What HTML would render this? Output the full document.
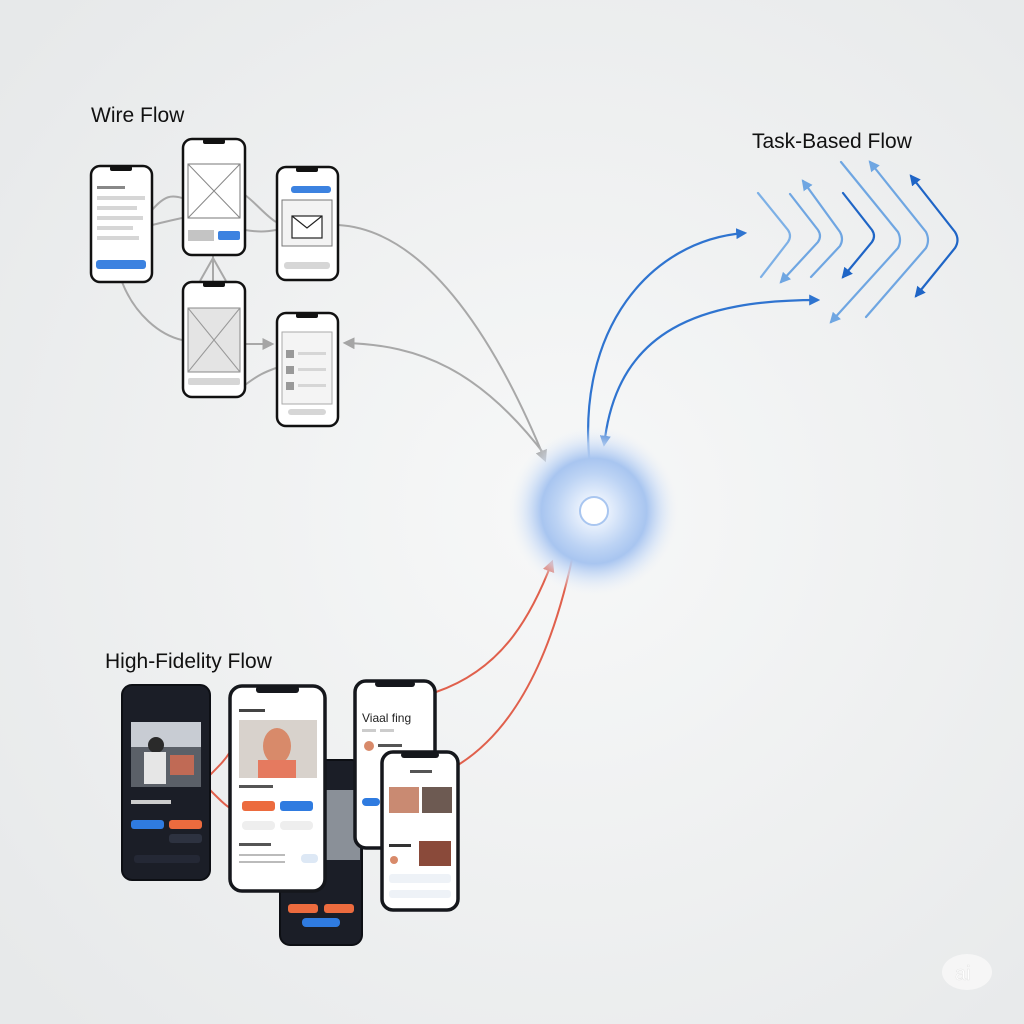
<!DOCTYPE html>
<html><head><meta charset="utf-8"><style>
html,body{margin:0;padding:0;width:1024px;height:1024px;overflow:hidden;background:#eceeee}
svg{display:block}
text{font-family:"Liberation Sans",sans-serif}
</style></head><body>
<svg width="1024" height="1024" viewBox="0 0 1024 1024" xmlns="http://www.w3.org/2000/svg">
<defs>
<radialGradient id="bg" cx="0.55" cy="0.5" r="0.7">
<stop offset="0" stop-color="#f7f8f8"/><stop offset="1" stop-color="#e7e9ea"/></radialGradient>
<radialGradient id="orb" cx="0.5" cy="0.5" r="0.5">
<stop offset="0" stop-color="#ffffff"/><stop offset="0.18" stop-color="#e6effc"/><stop offset="0.45" stop-color="#bcd3f4"/><stop offset="0.62" stop-color="#a8c5f0"/><stop offset="0.8" stop-color="#d2e1f7" stop-opacity="0.7"/><stop offset="1" stop-color="#eef2f8" stop-opacity="0"/></radialGradient>
<marker id="ag" viewBox="0 0 10 10" refX="8" refY="5" markerWidth="6" markerHeight="6" orient="auto"><path d="M0,0L10,5L0,10z" fill="#a5a5a5"/></marker>
<marker id="ar" viewBox="0 0 10 10" refX="8" refY="5" markerWidth="6" markerHeight="6" orient="auto"><path d="M0,0L10,5L0,10z" fill="#e0604c"/></marker>
<marker id="ab" viewBox="0 0 10 10" refX="8" refY="5" markerWidth="5" markerHeight="5" orient="auto"><path d="M0,0L10,5L0,10z" fill="#2f74d0"/></marker>
<marker id="abs" viewBox="0 0 10 10" refX="2" refY="5" markerWidth="5" markerHeight="5" orient="auto-start-reverse"><path d="M0,0L10,5L0,10z" fill="#2f74d0"/></marker>
<marker id="al" viewBox="0 0 10 10" refX="8" refY="5" markerWidth="5" markerHeight="5" orient="auto-start-reverse"><path d="M0,0L10,5L0,10z" fill="#6fa6e2"/></marker>
<marker id="ad" viewBox="0 0 10 10" refX="8" refY="5" markerWidth="5" markerHeight="5" orient="auto-start-reverse"><path d="M0,0L10,5L0,10z" fill="#1f65c6"/></marker>
</defs>
<rect width="1024" height="1024" fill="url(#bg)"/>

<text x="91" y="122" font-size="21" fill="#111">Wire Flow</text>
<text x="752" y="148" font-size="21" fill="#111">Task-Based Flow</text>
<text x="105" y="668" font-size="21" fill="#111">High-Fidelity Flow</text>

<g fill="none" stroke="#a8a8a8" stroke-width="2">
<path d="M152,210 C165,195 172,195 182,198"/>
<path d="M152,225 C165,222 172,220 182,218"/>
<path d="M245,195 C258,205 265,215 276,222"/>
<path d="M245,230 C258,232 265,232 276,230"/>
<path d="M213,281 L213,256"/>
<path d="M200,281 L213,258 L226,281"/>
<path d="M122,282 C135,315 160,335 182,340"/>
<path d="M245,344 L272,344" marker-end="url(#ag)"/>
<path d="M245,385 C258,375 265,372 276,368"/>
<path d="M338,225 C430,230 500,350 545,460" marker-end="url(#ag)"/>
<path d="M545,455 C480,370 420,345 345,343" marker-end="url(#ag)"/>
</g>

<g fill="none" stroke="#e0604c" stroke-width="2">
<path d="M436,692 C500,670 530,620 552,562" marker-end="url(#ar)"/>
<path d="M458,765 C530,720 560,620 575,545"/>
<path d="M210,775 C220,765 225,760 230,752"/>
<path d="M210,790 C220,800 225,805 230,808"/>
</g>

<g fill="none" stroke="#2f74d0" stroke-width="2.2">
<path d="M590,466 C575,330 650,240 745,233" marker-end="url(#ab)"/>
<path d="M605,438 C620,330 700,300 818,300" marker-start="url(#abs)" marker-end="url(#ab)"/>
</g>

<g fill="none" stroke-width="2.2" stroke-linecap="round">
<path d="M758,193 L788,230 Q792,236 788,242 L761,277" stroke="#7db0e6"/>
<path d="M790,194 L818,230 Q822,236 818,242 L781,282" stroke="#6fa6e2" marker-end="url(#al)"/>
<path d="M803,181 L840,232 Q844,239 840,246 L811,277" stroke="#6fa6e2" marker-start="url(#al)"/>
<path d="M843,193 L872,230 Q876,236 872,242 L843,277" stroke="#1f65c6" marker-end="url(#ad)"/>
<path d="M841,162 L898,232 Q902,240 898,248 L831,322" stroke="#6fa6e2" marker-end="url(#al)"/>
<path d="M870,162 L926,232 Q930,240 926,248 L866,317" stroke="#6fa6e2" marker-start="url(#al)"/>
<path d="M911,176 L955,232 Q960,240 955,248 L916,296" stroke="#1f65c6" marker-start="url(#ad)" marker-end="url(#ad)"/>
</g>

<circle cx="594" cy="511" r="85" fill="url(#orb)"/>
<circle cx="594" cy="511" r="14" fill="#fff" stroke="#a9c6f0" stroke-width="2"/>

<g stroke="#111" stroke-width="2.5" fill="#fff">
<rect x="91" y="166" width="61" height="116" rx="9"/>
<rect x="183" y="139" width="62" height="116" rx="9"/>
<rect x="277" y="167" width="61" height="113" rx="9"/>
<rect x="183" y="282" width="62" height="115" rx="9"/>
<rect x="277" y="313" width="61" height="113" rx="9"/>
</g>
<g fill="#111">
<rect x="110" y="166" width="22" height="5" rx="2"/>
<rect x="203" y="139" width="22" height="5" rx="2"/>
<rect x="296" y="167" width="22" height="5" rx="2"/>
<rect x="203" y="282" width="22" height="5" rx="2"/>
<rect x="296" y="313" width="22" height="5" rx="2"/>
</g>
<g fill="#d6d6d6">
<rect x="97" y="186" width="28" height="3" fill="#888"/>
<rect x="97" y="196" width="48" height="4"/><rect x="97" y="206" width="40" height="4"/><rect x="97" y="216" width="46" height="4"/><rect x="97" y="226" width="36" height="4"/><rect x="97" y="236" width="42" height="4"/>
<rect x="96" y="260" width="50" height="9" rx="3" fill="#3c82e0"/>
<rect x="188" y="164" width="52" height="54" fill="#fff" stroke="#777" stroke-width="1"/>
<path d="M188,164L240,218M240,164L188,218" stroke="#888" stroke-width="1"/>
<rect x="188" y="230" width="26" height="11" fill="#c4c4c4"/>
<rect x="218" y="231" width="22" height="9" rx="2" fill="#3c82e0"/>
<rect x="291" y="186" width="40" height="7" rx="3" fill="#3c82e0"/>
<rect x="282" y="200" width="50" height="46" fill="#f3f3f3" stroke="#777" stroke-width="1"/>
<rect x="292" y="216" width="30" height="22" fill="#fff" stroke="#222" stroke-width="1.2"/>
<path d="M292,216L307,228L322,216" fill="none" stroke="#222" stroke-width="1.2"/>
<rect x="284" y="262" width="46" height="7" rx="3"/>
<rect x="188" y="308" width="52" height="64" fill="#e4e4e4" stroke="#888" stroke-width="1"/>
<path d="M188,308L240,372M240,308L188,372" stroke="#999" stroke-width="1"/>
<rect x="188" y="378" width="52" height="7" rx="2"/>
<rect x="282" y="332" width="50" height="72" fill="#f4f4f4" stroke="#aaa" stroke-width="1"/>
<rect x="286" y="350" width="8" height="8" fill="#999"/><rect x="298" y="352" width="28" height="3"/>
<rect x="286" y="366" width="8" height="8" fill="#999"/><rect x="298" y="368" width="28" height="3"/>
<rect x="286" y="382" width="8" height="8" fill="#999"/><rect x="298" y="384" width="28" height="3"/>
<rect x="288" y="409" width="38" height="6" rx="3"/>
</g>

<rect x="122" y="685" width="88" height="195" rx="10" fill="#1b1e27" stroke="#0d0f14" stroke-width="2"/>
<rect x="131" y="722" width="70" height="65" fill="#5b6068"/>
<rect x="131" y="722" width="70" height="25" fill="#c8ccd3"/>
<circle cx="156" cy="745" r="8" fill="#2a2a2a"/><rect x="144" y="752" width="22" height="32" fill="#e6e6e6"/>
<rect x="170" y="755" width="24" height="20" fill="#c06a55"/>
<rect x="131" y="800" width="40" height="4" fill="#ccc"/>
<rect x="131" y="820" width="33" height="9" rx="3" fill="#2f7be0"/>
<rect x="169" y="820" width="33" height="9" rx="3" fill="#ec6b3e"/>
<rect x="169" y="834" width="33" height="9" rx="3" fill="#2d3240"/>
<rect x="134" y="855" width="66" height="8" rx="3" fill="#242835"/>
<rect x="280" y="760" width="82" height="185" rx="10" fill="#1b1e27" stroke="#0d0f14" stroke-width="2"/>
<rect x="320" y="790" width="40" height="70" fill="#8a9098"/>
<rect x="288" y="904" width="30" height="9" rx="3" fill="#ec6b3e"/>
<rect x="324" y="904" width="30" height="9" rx="3" fill="#ec6b3e"/>
<rect x="302" y="918" width="38" height="9" rx="4" fill="#2f7be0"/>
<rect x="230" y="686" width="95" height="205" rx="12" fill="#fff" stroke="#15171c" stroke-width="3.5"/>
<rect x="256" y="686" width="43" height="7" rx="3" fill="#15171c"/>
<rect x="239" y="709" width="26" height="3" fill="#444"/>
<rect x="239" y="720" width="78" height="58" fill="#d8d2cc"/>
<ellipse cx="277" cy="746" rx="14" ry="18" fill="#d88a6a"/>
<rect x="258" y="760" width="38" height="18" fill="#e57a5f"/>
<rect x="239" y="785" width="34" height="3" fill="#555"/>
<rect x="242" y="801" width="33" height="10" rx="3" fill="#ec6b3e"/>
<rect x="280" y="801" width="33" height="10" rx="3" fill="#2f7be0"/>
<rect x="242" y="821" width="33" height="9" rx="4" fill="#eee"/>
<rect x="280" y="821" width="33" height="9" rx="4" fill="#eee"/>
<rect x="239" y="843" width="32" height="3" fill="#555"/>
<rect x="239" y="854" width="46" height="2" fill="#bbb"/><rect x="239" y="861" width="46" height="2" fill="#bbb"/>
<rect x="301" y="854" width="17" height="9" rx="4" fill="#dde8f5"/>
<rect x="355" y="681" width="80" height="167" rx="11" fill="#fff" stroke="#15171c" stroke-width="3.5"/>
<rect x="375" y="681" width="40" height="6" rx="3" fill="#15171c"/>
<text x="362" y="722" font-size="12" fill="#222">Viaal fing</text>
<rect x="362" y="729" width="14" height="3" fill="#ccc"/><rect x="380" y="729" width="14" height="3" fill="#ccc"/>
<circle cx="369" cy="746" r="5" fill="#d88a6a"/>
<rect x="378" y="744" width="24" height="3" fill="#555"/>
<rect x="362" y="798" width="18" height="8" rx="4" fill="#2f7be0"/>
<rect x="382" y="752" width="76" height="158" rx="11" fill="#fff" stroke="#15171c" stroke-width="3.5"/>
<rect x="401" y="752" width="38" height="6" rx="3" fill="#15171c"/>
<rect x="410" y="770" width="22" height="3" fill="#555"/>
<rect x="389" y="787" width="30" height="26" fill="#c98a72"/>
<rect x="422" y="787" width="30" height="26" fill="#6d5a52"/>
<rect x="389" y="844" width="22" height="3" fill="#333"/>
<rect x="419" y="841" width="32" height="25" fill="#8a4a3a"/>
<circle cx="394" cy="860" r="4" fill="#d88a6a"/>
<rect x="389" y="874" width="62" height="9" rx="3" fill="#eef2f7"/>
<rect x="389" y="890" width="62" height="8" rx="3" fill="#eef2f7"/>

<ellipse cx="967" cy="972" rx="25" ry="18" fill="#f6f6f6"/>
<text x="955" y="980" font-size="20" fill="#fff" stroke="#e4e4e4" stroke-width="0.5">ai</text>
</svg>
</body></html>
